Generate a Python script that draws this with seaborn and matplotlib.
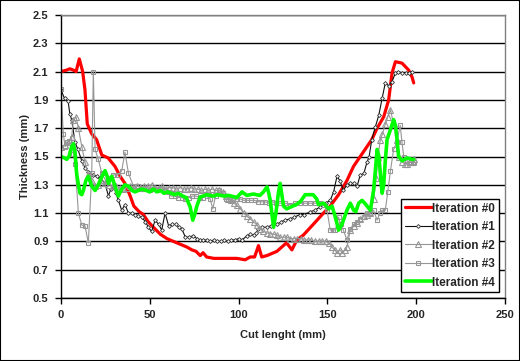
import numpy as np
import pandas as pd
import matplotlib
matplotlib.use("Agg")
import matplotlib.pyplot as plt
import seaborn as sns

# Iteration #0 (red)
x0 = [0, 3, 5, 7, 8.5, 10.3, 12.2, 13.5, 14.8, 17.3, 20, 23, 26.5, 30.4, 33.3, 36, 39, 41, 44, 46.4,
      49, 52, 56, 59.6, 65.2, 70.9, 73.7, 76, 78.4, 80, 82, 86, 90, 95, 99, 103.7, 106.5, 109, 111.2,
      113, 116, 121.6, 123.4, 127, 130, 132.8, 136.5, 142, 147.8, 151.6, 156.3, 161, 164.7, 168.5,
      172.3, 175, 178, 181.7, 184.5, 186.4, 188.3, 192, 195.8, 197.7, 198.6]
y0 = [2.10, 2.11, 2.12, 2.11, 2.10, 2.19, 2.10, 1.97, 1.73, 1.66, 1.62, 1.51, 1.49, 1.43, 1.36, 1.31, 1.22,
      1.15, 1.11, 1.09, 1.04, 1.00, 0.95, 0.92, 0.89, 0.86, 0.84, 0.83, 0.80, 0.82, 0.79, 0.78, 0.78,
      0.78, 0.78, 0.77, 0.79, 0.79, 0.87, 0.79, 0.80, 0.83, 0.85, 0.89, 0.84, 0.91, 0.945, 1.02, 1.10,
      1.15, 1.23, 1.33, 1.43, 1.50, 1.57, 1.62, 1.70, 1.78, 1.90, 2.09, 2.17, 2.16, 2.11, 2.06, 2.02]

# Iteration #1 (black, diamonds)
x1 = [0, 2, 4, 5, 6, 7.9, 9.5, 11.7, 13.5, 15.4, 18, 20, 22, 24.8, 26.7, 28, 29.5, 31, 32.3, 34.2, 36,
      38, 40, 41.7, 43.5, 45.5, 47.5, 49.2, 51, 53, 55, 56.7, 58.6, 60.6, 62.5, 64.5, 66.5, 68, 70, 72,
      74.5, 76.5, 78.4, 80.2, 82, 84, 86, 88, 90, 92, 94, 96, 98, 100, 102, 104.7, 106.5, 108.4, 110,
      111.2, 113, 116, 118, 121.6, 124, 126.3, 129, 131, 134.7, 137, 140.4, 143, 146, 149, 151.6, 153.5,
      155.4, 157, 159, 161, 162.9, 164.8, 166.7, 168.5, 170.5, 172.3, 173.5, 175, 177, 178.9, 180.8,
      182.6, 184.5, 186.4, 188.3, 190, 192, 194, 195.8, 197.7]
y1 = [1.97, 1.91, 1.89, 1.80, 1.76, 1.60, 1.55, 1.47, 1.42, 1.39, 1.37, 1.36, 1.35, 1.31, 1.22, 1.27, 1.29,
      1.24, 1.19, 1.12, 1.16, 1.10, 1.10, 1.09, 1.08, 1.07, 1.04, 1.00, 0.97, 1.05, 1.02, 0.98, 1.10, 1.01,
      1.02, 1.02, 1.00, 0.99, 0.93, 0.93, 0.94, 0.92, 0.91, 0.91, 0.91, 0.90, 0.91, 0.90, 0.90, 0.91, 0.90,
      0.91, 0.91, 0.92, 0.91, 0.94, 0.95, 0.945, 0.96, 0.99, 1.00, 1.00, 1.01, 1.02, 1.04, 1.05, 1.06,
      1.07, 1.09, 1.09, 1.11, 1.12, 1.145, 1.17, 1.19, 1.25, 1.36, 1.33, 1.26, 1.30, 1.31, 1.31, 1.29,
      1.37, 1.38, 1.46, 1.50, 1.62, 1.71, 1.79, 1.91, 2.02, 2.00, 2.03, 2.09, 2.10, 2.09, 2.09, 2.09, 2.10]

# Iteration #2 (gray, triangles)
x2 = [0, 2, 4, 6, 7, 8.5, 9.8, 11.7, 13.5, 15.4, 17.3, 19.2, 21, 23, 24.8, 27, 29, 31, 33, 35, 37, 39,
      41, 43, 45, 47, 49, 51, 53, 55, 57, 59, 61, 63, 65, 67, 69, 71, 73, 75, 77, 79, 81, 83, 85, 87,
      89, 91, 93, 94.3, 96, 97.5, 99, 101, 102.8, 104.5, 106.5, 108.4, 110.3, 112, 114, 116, 117.8, 120,
      121.6, 123.5, 125.3, 127, 129, 131, 133, 135, 137, 139, 141, 143, 145, 147, 149, 151, 152.5, 154,
      155.5, 157, 158.5, 160, 161, 162.9, 164.8, 166.7, 168.5, 170.4, 172.3, 174.2, 176, 177.5, 178.5,
      179.8, 181, 182.6, 184, 185.5, 187.3, 189.2, 190.1, 192, 193.5, 195, 196.5, 198, 199]
y2 = [1.57, 1.58, 1.60, 1.64, 1.76, 1.78, 1.70, 1.57, 1.46, 1.37, 1.33, 1.29, 1.30, 1.31, 1.31, 1.30, 1.29,
      1.29, 1.28, 1.27, 1.28, 1.29, 1.28, 1.29, 1.28, 1.29, 1.29, 1.30, 1.28, 1.28, 1.29, 1.27, 1.28, 1.28,
      1.27, 1.28, 1.27, 1.27, 1.28, 1.27, 1.27, 1.26, 1.27, 1.26, 1.27, 1.26, 1.26, 1.25, 1.22, 1.20,
      1.19, 1.17, 1.155, 1.13, 1.10, 1.08, 1.06, 1.04, 1.015, 0.99, 0.97, 0.96, 0.955, 0.95, 0.945, 0.93,
      0.93, 0.93, 0.92, 0.92, 0.92, 0.92, 0.91, 0.91, 0.91, 0.90, 0.90, 0.90, 0.90, 0.89, 0.86, 0.84,
      0.82, 0.84, 0.82, 0.84, 0.86, 0.98, 1.01, 1.03, 1.06, 1.08, 1.09, 1.10, 1.20, 1.35, 1.50, 1.62,
      1.66, 1.73, 1.78, 1.83, 1.73, 1.62, 1.50, 1.46, 1.45, 1.45, 1.46, 1.46, 1.48]

# Iteration #3 (gray, squares)
x3 = [0, 1.3, 2.3, 3.2, 4.5, 6, 7, 7.9, 9.8, 11.7, 13.5, 15.4, 17.3, 18.2, 19.2, 21, 23, 25.7, 27.6,
      29.5, 32.3, 34.2, 36, 38, 40.8, 43.6, 46, 48, 50, 52, 54, 56, 58, 60, 62, 64, 66, 68, 70, 72, 74,
      76, 78, 80, 82, 84, 85.5, 87, 89, 91, 93, 95, 97, 99, 101, 103, 105, 107, 109, 111, 113, 115, 117,
      119, 121, 123.4, 126, 129, 132, 134.7, 137.5, 140.4, 143, 146, 148, 149.8, 151.6, 153, 154.5,
      156.3, 157.5, 159, 161, 162.9, 164.8, 166.7, 168.5, 170.4, 172.3, 174.2, 176, 178, 179.5, 180.8,
      182.6, 184, 185.5, 187.3, 189, 191, 192, 193, 194.9, 196.8, 198.6]
y3 = [1.98, 1.66, 1.57, 1.60, 1.61, 1.63, 1.52, 1.45, 1.10, 1.015, 1.01, 0.89, 1.38, 2.10, 1.55, 1.48,
      1.38, 1.32, 1.35, 1.37, 1.37, 1.40, 1.53, 1.38, 1.29, 1.29, 1.27, 1.27, 1.26, 1.27, 1.26, 1.27, 1.26,
      1.25, 1.22, 1.22, 1.21, 1.21, 1.20, 1.21, 1.22, 1.22, 1.21, 1.21, 1.22, 1.20, 1.13, 1.22, 1.26, 1.24,
      1.20, 1.20, 1.19, 1.20, 1.20, 1.19, 1.19, 1.19, 1.19, 1.18, 1.18, 1.18, 1.17, 1.18, 1.17, 1.17, 1.17,
      1.16, 1.17, 1.17, 1.17, 1.17, 1.17, 1.17, 1.16, 1.12, 0.98, 0.98, 0.98, 1.07, 1.02, 0.98, 0.91,
      0.99, 1.02, 1.04, 1.06, 1.075, 1.10, 1.10, 1.12, 1.05, 1.10, 1.12, 1.12, 1.25, 1.40, 1.55, 1.60,
      1.72, 1.60, 1.50, 1.47, 1.46, 1.46]

# Iteration #4 (green)
x4 = [0, 2, 3.2, 4.5, 6, 7, 7.9, 8.8, 9.8, 10.7, 11.7, 12.6, 14, 15.4, 17.3, 19.2, 21, 22, 23.5, 24.8,
      26, 26.7, 28.6, 30.4, 32.3, 34.2, 36, 38, 40, 41.7, 43.5, 45.5, 48, 50, 52, 54, 56, 58, 60, 62, 64,
      66, 68.6, 70.5, 72.7, 74.2, 75.5, 76.5, 78.4, 80, 82, 84, 86, 88, 90, 92, 94.3, 96, 99, 101.9, 103,
      104.7, 106.5, 108.4, 110, 112, 114, 116, 117, 117.8, 119.7, 121, 122.5, 123.4, 125.3, 127, 130.6,
      132.5, 134.7, 137.5, 140, 142, 144, 145, 147.8, 150.7, 152.6, 154.5, 156.3, 158.2, 161, 162.9,
      164.8, 166, 167.6, 169.5, 171, 172.3, 174.2, 176, 177, 178, 179, 179.8, 180.8, 181.7, 182.6, 183.6,
      185.5, 187.3, 188.3, 189.2, 190.1, 192, 194.9, 197.7, 198.6]
y4 = [1.50, 1.49, 1.48, 1.50, 1.57, 1.59, 1.53, 1.38, 1.30, 1.24, 1.23, 1.26, 1.33, 1.36, 1.29, 1.26,
      1.30, 1.33, 1.37, 1.40, 1.36, 1.31, 1.36, 1.29, 1.22, 1.27, 1.30, 1.29, 1.26, 1.25, 1.26, 1.27, 1.26,
      1.25, 1.27, 1.25, 1.26, 1.24, 1.25, 1.24, 1.23, 1.24, 1.22, 1.21, 1.145, 1.05, 1.10, 1.15, 1.215,
      1.22, 1.23, 1.225, 1.22, 1.23, 1.225, 1.22, 1.225, 1.22, 1.21, 1.25, 1.24, 1.225, 1.23, 1.235, 1.23,
      1.225, 1.25, 1.285, 1.24, 1.19, 1.00, 1.10, 1.25, 1.31, 1.15, 1.13, 1.15, 1.16, 1.18, 1.23, 1.23,
      1.23, 1.20, 1.16, 1.17, 1.13, 1.15, 1.07, 0.98, 1.02, 1.12, 1.17, 1.12, 1.11, 1.17, 1.19, 1.17,
      1.15, 1.12, 1.26, 1.40, 1.55, 1.50, 1.38, 1.24, 1.30, 1.47, 1.62, 1.69, 1.76, 1.72, 1.62, 1.50,
      1.47, 1.49, 1.48, 1.48]

labels = ["Iteration #0", "Iteration #1", "Iteration #2", "Iteration #3", "Iteration #4"]

sns.set_style("white")
plt.rcParams["font.family"] = ["Liberation Sans", "DejaVu Sans"]
plt.rcParams["font.weight"] = "bold"

fig = plt.figure(figsize=(5.2, 3.61), dpi=100)
ax = fig.add_axes([61 / 520, 1 - 298 / 361, 444 / 520, 283 / 361])

gray = "#969696"
sns.lineplot(x=x0, y=y0, ax=ax, color="#ff0000", lw=2.3, estimator=None, sort=False,
             label=labels[0])
sns.lineplot(x=x1, y=y1, ax=ax, color="#101010", lw=0.8, marker="D", ms=2.0, mfc="white",
             mec="#303030", mew=0.6, estimator=None, sort=False, label=labels[1])
sns.lineplot(x=x2, y=y2, ax=ax, color=gray, lw=0.8, marker="^", ms=5, mfc="none",
             mec=gray, mew=0.8, estimator=None, sort=False, label=labels[2])
sns.lineplot(x=x3, y=y3, ax=ax, color=gray, lw=0.8, marker="s", ms=3, mfc="none",
             mec=gray, mew=0.8, estimator=None, sort=False, label=labels[3])
sns.lineplot(x=x4, y=y4, ax=ax, color="#00ff00", lw=2.6, estimator=None, sort=False,
             label=labels[4])

ax.set_xlim(0, 250)
ax.set_ylim(0.5, 2.5)
ax.set_xticks(np.arange(0, 251, 50))
ax.set_yticks(np.round(np.arange(0.5, 2.51, 0.2), 1))
ax.set_yticklabels([f"{v:.1f}" for v in np.arange(0.5, 2.51, 0.2)])
ax.yaxis.grid(True, color="black", lw=1)
ax.xaxis.grid(False)
ax.set_axisbelow(True)
ax.tick_params(axis="both", labelsize=8, direction="out", length=4, width=1,
               color="black", bottom=True, left=True, pad=5)
for lab in ax.get_xticklabels() + ax.get_yticklabels():
    lab.set_fontweight("bold")
for side in ["left", "bottom"]:
    ax.spines[side].set_color("black")
    ax.spines[side].set_linewidth(1)
for side in ["top", "right"]:
    ax.spines[side].set_color("#808080")
    ax.spines[side].set_linewidth(1)

ax.set_xlabel("Cut lenght (mm)", fontsize=8, fontweight="bold", labelpad=7)
ax.set_ylabel("Thickness (mm)", fontsize=8, fontweight="bold", labelpad=2)

leg = ax.legend(loc="lower right", bbox_to_anchor=(0.986, 0.021), borderaxespad=0,
                fancybox=False, framealpha=1, edgecolor="black", fontsize=8.5,
                handlelength=2.3, handletextpad=0.05, labelspacing=0.55, borderpad=0.3)
leg.get_frame().set_linewidth(1)
for t in leg.get_texts():
    t.set_fontweight("bold")

fig.add_artist(plt.Rectangle((0, 0), 1, 1, transform=fig.transFigure, fill=False,
                             ec="black", lw=1.5))

fig.savefig("out.png", dpi=100)
